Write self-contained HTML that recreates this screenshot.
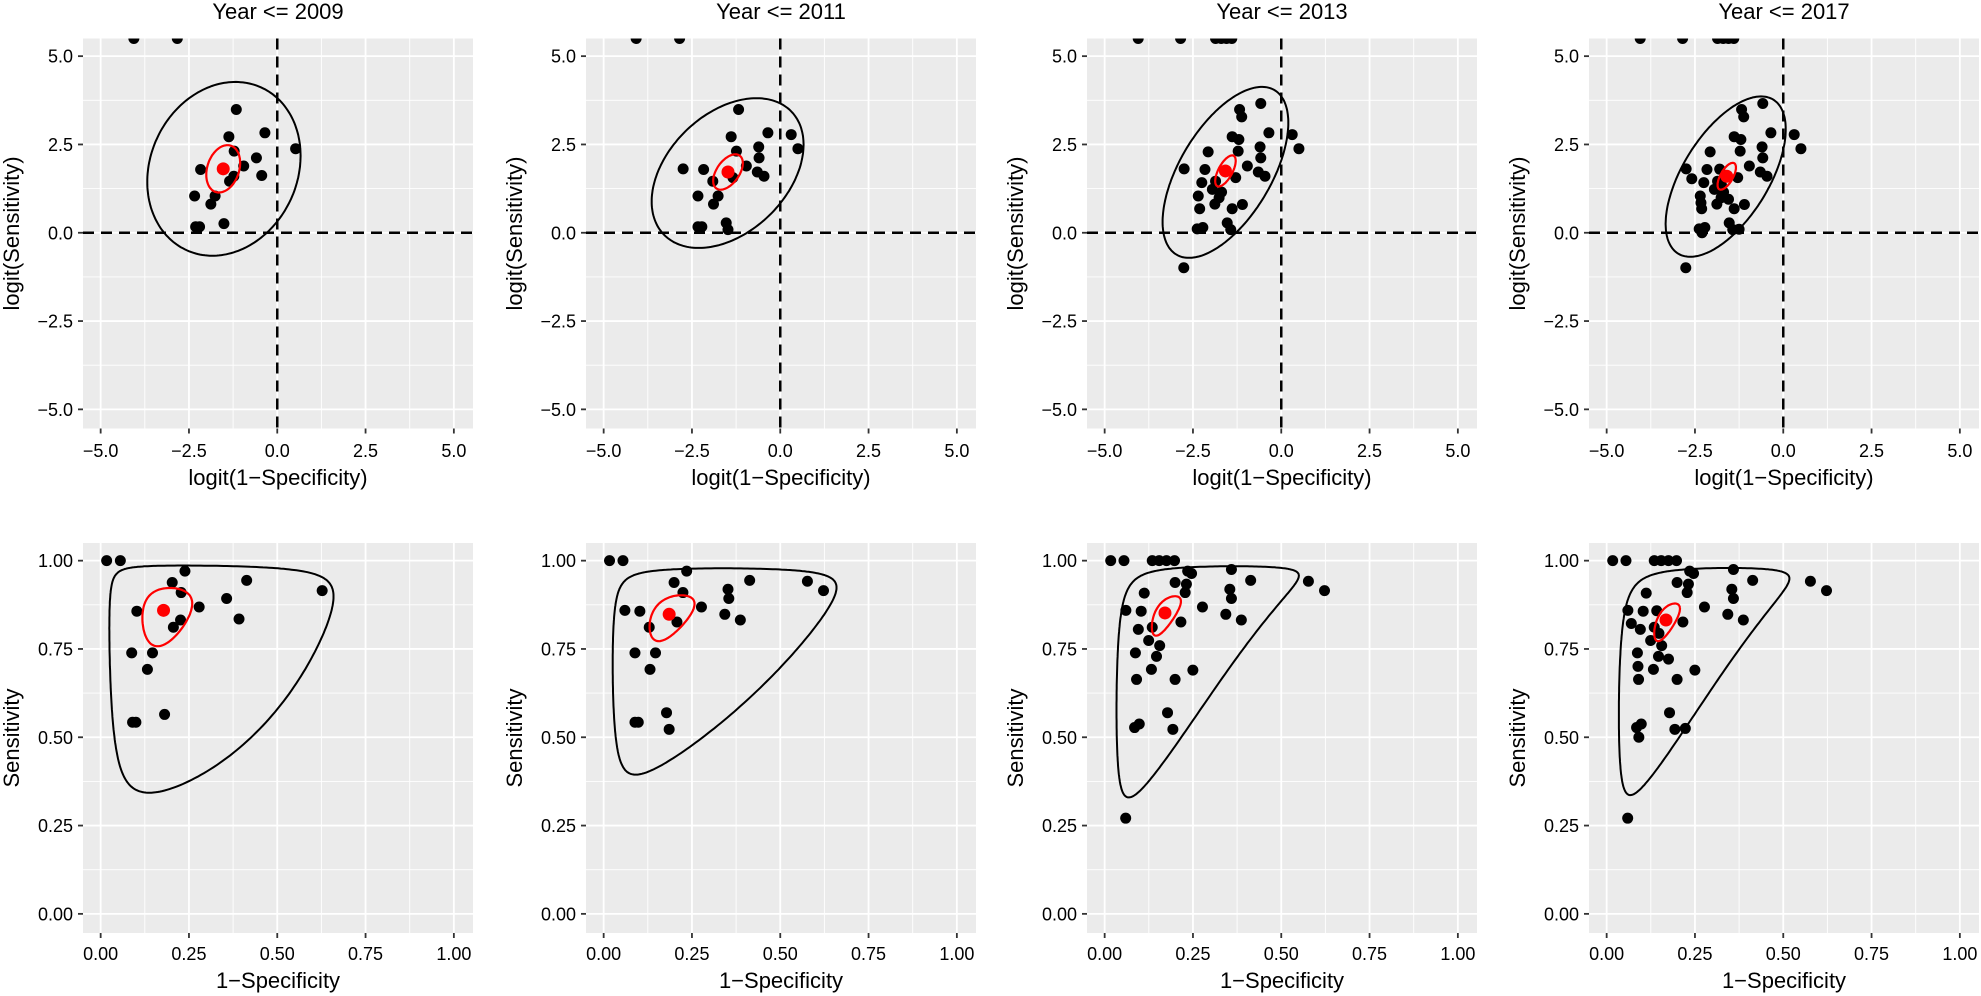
<!DOCTYPE html>
<html><head><meta charset="utf-8"><style>
html,body{margin:0;padding:0;background:#fff;}
svg{display:block;font-family:"Liberation Sans",Arial,sans-serif;}
</style></head><body>
<svg id="s" width="1981" height="996" xmlns="http://www.w3.org/2000/svg"></svg>
<script>
const S=document.getElementById('s');
const NS='http://www.w3.org/2000/svg';
function el(t,a,p){const e=document.createElementNS(NS,t);for(const k in a)e.setAttribute(k,a[k]);(p||S).appendChild(e);return e;}
function txt(x,y,s,size,anchor,rot){const a={x:x,y:y,'font-size':size,'text-anchor':anchor||'middle',fill:'#000'};if(rot)a.transform='rotate(-90 '+x+' '+y+')';const e=el('text',a);e.textContent=s;return e;}
const INF=99;
const base=[[-4.06,INF],[-2.83,INF],[-1.16,3.49],[-1.37,2.72],[-0.35,2.83],[0.52,2.38],[-1.22,2.31],[-0.59,2.12],[-0.95,1.89],[-2.17,1.79],[-0.44,1.62],[-1.23,1.60],[-1.35,1.46],[-1.76,1.04],[-2.34,1.04],[-1.88,0.81],[-1.51,0.26],[-2.31,0.17],[-2.20,0.17]];
const p2=[[-4.08,INF],[-2.85,INF],[-1.18,3.49],[-1.39,2.72],[-0.35,2.83],[0.31,2.78],[0.50,2.38],[-0.61,2.43],[-0.60,2.12],[-1.24,2.31],[-0.96,1.89],[-2.75,1.81],[-2.17,1.79],[-0.65,1.72],[-0.46,1.60],[-1.34,1.56],[-1.91,1.46],[-2.33,1.04],[-1.76,1.04],[-1.89,0.81],[-1.53,0.28],[-1.48,0.09],[-2.33,0.17],[-2.22,0.17]];
const p3=[[-4.05,INF],[-2.85,INF],[-1.86,INF],[-1.7,INF],[-1.55,INF],[-1.4,INF],[-0.58,3.66],[-1.18,3.49],[-1.12,3.28],[-0.35,2.83],[0.31,2.78],[0.50,2.38],[-1.39,2.72],[-1.20,2.64],[-0.60,2.43],[-0.58,2.12],[-1.22,2.31],[-2.07,2.29],[-0.96,1.89],[-2.75,1.81],[-2.16,1.79],[-0.65,1.72],[-0.46,1.60],[-1.29,1.56],[-1.86,1.46],[-2.25,1.42],[-1.95,1.23],[-1.69,1.15],[-1.76,0.99],[-2.35,1.04],[-1.88,0.81],[-2.31,0.68],[-1.39,0.68],[-1.10,0.80],[-1.53,0.28],[-1.43,0.09],[-2.38,0.11],[-2.22,0.15],[-2.76,-0.99]];
const p4=p3.concat([[-2.59,1.53],[-2.33,0.85],[-1.80,1.80],[-1.55,0.95],[-2.30,0.0],[-1.25,0.1],[-1.75,1.35]]);
const panels=[
 {L:83,title:'Year <= 2009',pts:base,blk:[-1.51,1.81,2.17,2.46,0.15],red:[-1.53,1.81,0.48,0.67,0.25]},
 {L:586,title:'Year <= 2011',pts:p2,blk:[-1.49,1.69,2.15,2.12,0.38],red:[-1.48,1.72,0.42,0.50,0.5]},
 {L:1087,title:'Year <= 2013',pts:p3,blk:[-1.58,1.71,1.78,2.42,0.58],red:[-1.58,1.75,0.29,0.44,0.65]},
 {L:1589,title:'Year <= 2017',pts:p4,blk:[-1.63,1.59,1.70,2.27,0.59],red:[-1.60,1.60,0.26,0.38,0.65]}
];
const K=35.32;
const KB=353.2;
function expit(v){return v>=INF?1:1/(1+Math.exp(-v));}
function ell(e,n){const [cx,cy,sx,sy,r]=e;const o=[];for(let i=0;i<=n;i++){const t=2*Math.PI*i/n;o.push([cx+sx*Math.cos(t),cy+sy*(r*Math.cos(t)+Math.sqrt(1-r*r)*Math.sin(t))]);}return o;}
panels.forEach((P,i)=>{
 const L=P.L,W=390,cxp=L+195;
 txt(cxp,19,P.title,22);
 const T=38.5;
 const X=v=>L+17.66+(v+5)*K, Y=v=>T+17.66+(5-v)*K;
 el('rect',{x:L,y:T,width:W,height:W,fill:'#EBEBEB'});
 for(let v=-3.75;v<=5;v+=2.5){el('line',{x1:X(v),x2:X(v),y1:T,y2:T+W,stroke:'#fff','stroke-width':0.9});el('line',{y1:Y(v),y2:Y(v),x1:L,x2:L+W,stroke:'#fff','stroke-width':0.9});}
 for(let v=-5;v<=5;v+=2.5){el('line',{x1:X(v),x2:X(v),y1:T,y2:T+W,stroke:'#fff','stroke-width':1.8});el('line',{y1:Y(v),y2:Y(v),x1:L,x2:L+W,stroke:'#fff','stroke-width':1.8});
  el('line',{x1:X(v),x2:X(v),y1:T+W,y2:T+W+5,stroke:'#333','stroke-width':1.8});el('line',{x1:L-5,x2:L,y1:Y(v),y2:Y(v),stroke:'#333','stroke-width':1.8});
  const s=(v<0?'\u2212':'')+Math.abs(v).toFixed(1);
  txt(X(v),457,s,18);txt(L-10,Y(v)+6.5,s,18,'end');}
 const cid='c'+i;const cp=el('clipPath',{id:cid});el('rect',{x:L,y:T,width:W,height:W},cp);
 const g=el('g',{'clip-path':'url(#'+cid+')'});
 el('line',{x1:X(0),x2:X(0),y1:T,y2:T+W,stroke:'#000','stroke-width':2.5,'stroke-dasharray':'11,7'},g);
 el('line',{x1:L,x2:L+W,y1:Y(0),y2:Y(0),stroke:'#000','stroke-width':2.5,'stroke-dasharray':'11,7'},g);
 P.pts.forEach(p=>{el('circle',{cx:X(p[0]),cy:p[1]>=INF?T:Y(p[1]),r:5.5,fill:'#000'},g);});
 const pth=(arr,fx,fy)=>arr.map((q,j)=>(j?'L':'M')+fx(q[0]).toFixed(1)+','+fy(q[1]).toFixed(1)).join('')+'Z';
 el('path',{d:pth(ell(P.blk,200),X,Y),fill:'none',stroke:'#000','stroke-width':2},g);
 el('path',{d:pth(ell(P.red,100),X,Y),fill:'none',stroke:'#f00','stroke-width':2.2},g);
 el('circle',{cx:X(P.red[0]),cy:Y(P.red[1]),r:6.5,fill:'#f00'},g);
 txt(cxp,485,'logit(1\u2212Specificity)',22);
 txt(L-64,T+W/2,'logit(Sensitivity)',22,'middle',true);
 const B=543;
 const BX=v=>L+17.66+v*KB, BY=v=>B+17.66+(1-v)*KB;
 el('rect',{x:L,y:B,width:W,height:W,fill:'#EBEBEB'});
 for(let v=0.125;v<=1;v+=0.25){el('line',{x1:BX(v),x2:BX(v),y1:B,y2:B+W,stroke:'#fff','stroke-width':0.9});el('line',{y1:BY(v),y2:BY(v),x1:L,x2:L+W,stroke:'#fff','stroke-width':0.9});}
 for(let v=0;v<=1.001;v+=0.25){el('line',{x1:BX(v),x2:BX(v),y1:B,y2:B+W,stroke:'#fff','stroke-width':1.8});el('line',{y1:BY(v),y2:BY(v),x1:L,x2:L+W,stroke:'#fff','stroke-width':1.8});
  el('line',{x1:BX(v),x2:BX(v),y1:B+W,y2:B+W+5,stroke:'#333','stroke-width':1.8});el('line',{x1:L-5,x2:L,y1:BY(v),y2:BY(v),stroke:'#333','stroke-width':1.8});
  const s=v.toFixed(2);txt(BX(v),960,s,18);txt(L-10,BY(v)+6.5,s,18,'end');}
 const tx=v=>BX(expit(v)),ty=v=>BY(expit(v));
 el('path',{d:pth(ell(P.blk,300),tx,ty),fill:'none',stroke:'#000','stroke-width':2});
 P.pts.forEach(p=>{el('circle',{cx:tx(p[0]),cy:ty(p[1]),r:5.5,fill:'#000'});});
 el('path',{d:pth(ell(P.red,100),tx,ty),fill:'none',stroke:'#f00','stroke-width':2.2});
 el('circle',{cx:tx(P.red[0]),cy:ty(P.red[1]),r:6.5,fill:'#f00'});
 txt(cxp,988,'1\u2212Specificity',22);
 txt(L-64,B+W/2,'Sensitivity',22,'middle',true);
});
</script>
</body></html>
